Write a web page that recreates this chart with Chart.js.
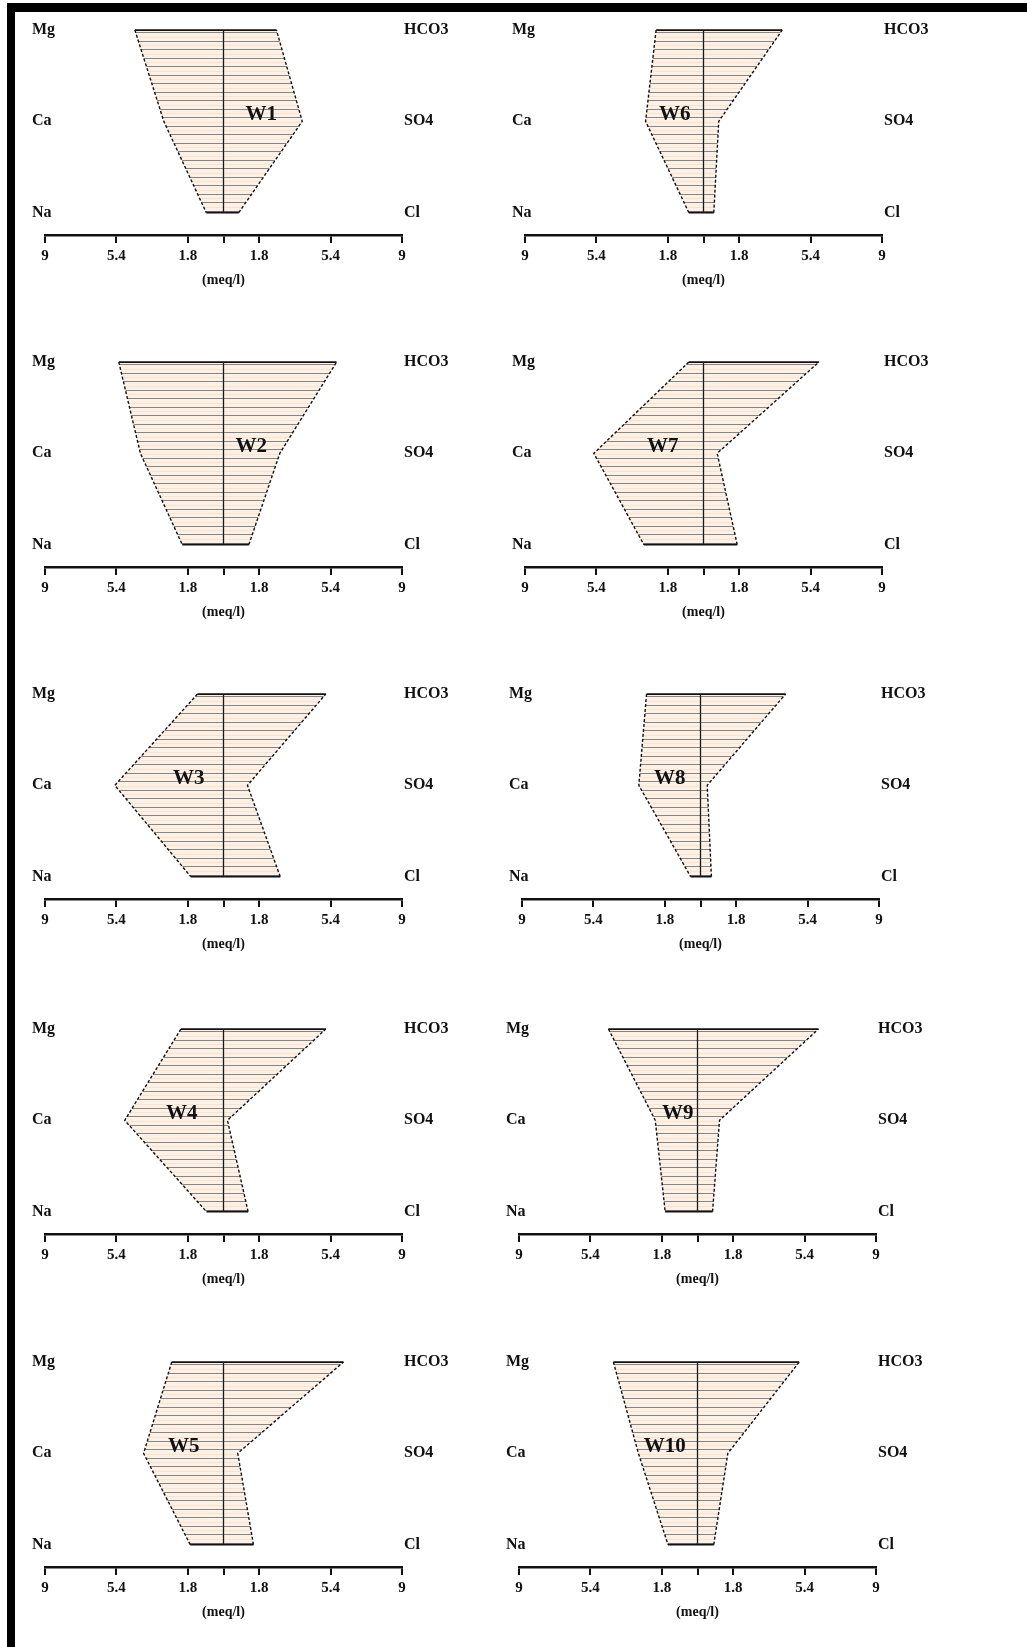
<!DOCTYPE html>
<html>
<head>
<meta charset="utf-8">
<title>Stiff diagrams W1-W10</title>
<script src="https://cdn.jsdelivr.net/npm/chart.js@4.4.1/dist/chart.umd.min.js"></script>
<style>
  html, body { margin: 0; padding: 0; background: #fff; }
  #page { position: relative; width: 1027px; height: 1647px; overflow: hidden; background: #fff; }
  .frame-top { position: absolute; left: 7px; top: 3px; width: 1020px; height: 9px; background: #000; z-index: 2; }
  .frame-left { position: absolute; left: 7px; top: 3px; width: 8px; height: 1644px; background: #000; z-index: 2; }
  canvas.panel { position: absolute; }
</style>
</head>
<body>
<div id="page">
  <div class="frame-top"></div>
  <div class="frame-left"></div>
</div>
<script>
// Stiff diagrams, meq/l. Left column W1-W5, right column W6-W10
const wells = ['W1', 'W2', 'W3', 'W4', 'W5', 'W6', 'W7', 'W8', 'W9', 'W10'];
const cations = ['Mg', 'Ca', 'Na'];
const anions = ['HCO3', 'SO4', 'Cl'];

const mg   = [4.47, 5.28, 1.31, 2.15, 2.61, 2.39, 0.74, 2.72, 4.49, 4.24];
const ca   = [3.01, 4.19, 5.48, 4.98, 4.03, 2.92, 5.53, 3.11, 2.13, 2.98];
const na   = [0.87, 2.08, 1.65, 0.86, 1.68, 0.74, 3.01, 0.50, 1.63, 1.49];
const hco3 = [2.67, 5.70, 5.16, 5.16, 6.05, 3.97, 5.82, 4.29, 6.10, 5.13];
const so4  = [3.97, 2.84, 1.21, 0.20, 0.72, 0.77, 0.69, 0.34, 1.11, 1.53];
const cl   = [0.77, 1.28, 2.86, 1.24, 1.51, 0.52, 1.70, 0.55, 0.76, 0.82];

const xTicks = [-9, -5.4, -1.8, 0, 1.8, 5.4, 9];

// layout (page pixels) - not data
const rowAxisY = [235, 567, 899, 1234, 1567];
const colLeft = [[0, 480], [0, 480], [0, 477], [0, 474], [0, 474]];
const labelX = [1.9, 1.4, -1.75, -2.1, -2.0, -1.45, -2.05, -1.55, -1.0, -1.65];
const labelY = 0.93;

const FONT = "'Liberation Serif', 'Times New Roman', serif";
const INK = '#111';

function hatch(ctx) {
    const tile = document.createElement('canvas');
    tile.width = 4;
    tile.height = 17;
    const t = tile.getContext('2d');
    t.fillStyle = '#fdf0e5';
    t.fillRect(0, 0, 4, 17);
    t.fillStyle = '#f8e2d2';
    t.fillRect(0, 3, 4, 1);
    t.fillRect(0, 11, 4, 1);
    t.fillStyle = '#858585';
    t.fillRect(0, 7, 4, 1);
    t.fillRect(0, 15, 4, 1);
    return ctx.createPattern(tile, 'repeat');
}

// well name written inside the diagram
const wellLabel = {
    id: 'wellLabel',
    afterDatasetsDraw(chart, args, opts) {
        const ctx = chart.ctx;
        ctx.save();
        ctx.font = 'bold 21px ' + FONT;
        ctx.fillStyle = INK;
        ctx.textAlign = 'center';
        ctx.textBaseline = 'middle';
        ctx.fillText(opts.text, chart.scales.x.getPixelForValue(opts.x), chart.scales.y.getPixelForValue(opts.y));
        ctx.restore();
    }
};

const page = document.getElementById('page');

wells.forEach(function(name, i) {
    const col = i < 5 ? 0 : 1;
    const row = i % 5;

    const canvas = document.createElement('canvas');
    canvas.className = 'panel';
    canvas.width = 480;
    canvas.height = 300;
    canvas.style.left = colLeft[row][col] + 'px';
    canvas.style.top = (rowAxisY[row] - 235) + 'px';
    page.appendChild(canvas);
    const ctx = canvas.getContext('2d');

    // cations to the left (negative), anions to the right
    const poly = [
        {x: -mg[i], y: 0}, {x: -ca[i], y: 1}, {x: -na[i], y: 2},
        {x: cl[i], y: 2}, {x: so4[i], y: 1}, {x: hco3[i], y: 0},
        {x: -mg[i], y: 0}
    ];

    new Chart(ctx, {
        type: 'line',
        data: {
            datasets: [
                {
                    data: poly,
                    order: 3,
                    fill: 'shape',
                    backgroundColor: hatch(ctx),
                    borderWidth: 0,
                    pointRadius: 0
                },
                {
                    data: poly,
                    order: 2,
                    fill: false,
                    borderColor: '#111',
                    borderWidth: 1.4,
                    pointRadius: 0,
                    segment: {
                        borderDash: s => (s.p0DataIndex === 2 || s.p0DataIndex === 5) ? [] : [3, 2],
                        borderWidth: s => (s.p0DataIndex === 2 || s.p0DataIndex === 5) ? 1.8 : 1.4
                    }
                },
                {
                    data: [{x: 0, y: 0}, {x: 0, y: 2}],
                    order: 1,
                    fill: false,
                    borderColor: '#1a1a1a',
                    borderWidth: 1.3,
                    pointRadius: 0
                }
            ]
        },
        options: {
            responsive: false,
            animation: false,
            events: [],
            layout: { padding: { top: 5, left: 0, right: 0, bottom: 0 } },
            plugins: {
                legend: { display: false },
                tooltip: { enabled: false },
                wellLabel: { text: name, x: labelX[i], y: labelY }
            },
            scales: {
                x: {
                    type: 'linear',
                    min: -9,
                    max: 9,
                    afterBuildTicks: s => { s.ticks = xTicks.map(v => ({value: v})); },
                    afterFit: s => { s.height = 65; },
                    ticks: {
                        autoSkip: false,
                        maxRotation: 0,
                        padding: 4,
                        color: INK,
                        font: { family: FONT, size: 15, weight: 'bold' },
                        callback: v => v === 0 ? '' : String(Math.abs(v))
                    },
                    grid: { drawOnChartArea: false, drawTicks: true, tickLength: 8, lineWidth: 2, color: '#111' },
                    border: { display: true, color: '#111', width: 2.5 },
                    title: {
                        display: true,
                        text: '(meq/l)',
                        color: INK,
                        font: { family: FONT, size: 14, weight: 'bold' },
                        padding: { top: 0, bottom: 11 }
                    }
                },
                y: {
                    type: 'linear',
                    position: 'left',
                    reverse: true,
                    min: -0.202,
                    max: 2.245,
                    afterBuildTicks: s => { s.ticks = [0, 1, 2].map(v => ({value: v})); },
                    afterFit: s => { s.width = 45; },
                    ticks: {
                        mirror: true,
                        padding: -13,
                        crossAlign: 'near',
                        color: INK,
                        font: { family: FONT, size: 16, weight: 'bold' },
                        callback: v => cations[v]
                    },
                    grid: { display: false, drawTicks: false },
                    border: { display: false }
                },
                y2: {
                    type: 'linear',
                    position: 'right',
                    reverse: true,
                    min: -0.202,
                    max: 2.245,
                    afterBuildTicks: s => { s.ticks = [0, 1, 2].map(v => ({value: v})); },
                    afterFit: s => { s.width = 78; },
                    ticks: {
                        padding: 2,
                        crossAlign: 'near',
                        color: INK,
                        font: { family: FONT, size: 16, weight: 'bold' },
                        callback: v => anions[v]
                    },
                    grid: { display: false, drawTicks: false },
                    border: { display: false }
                }
            }
        },
        plugins: [wellLabel]
    });
});
</script>
</body>
</html>
